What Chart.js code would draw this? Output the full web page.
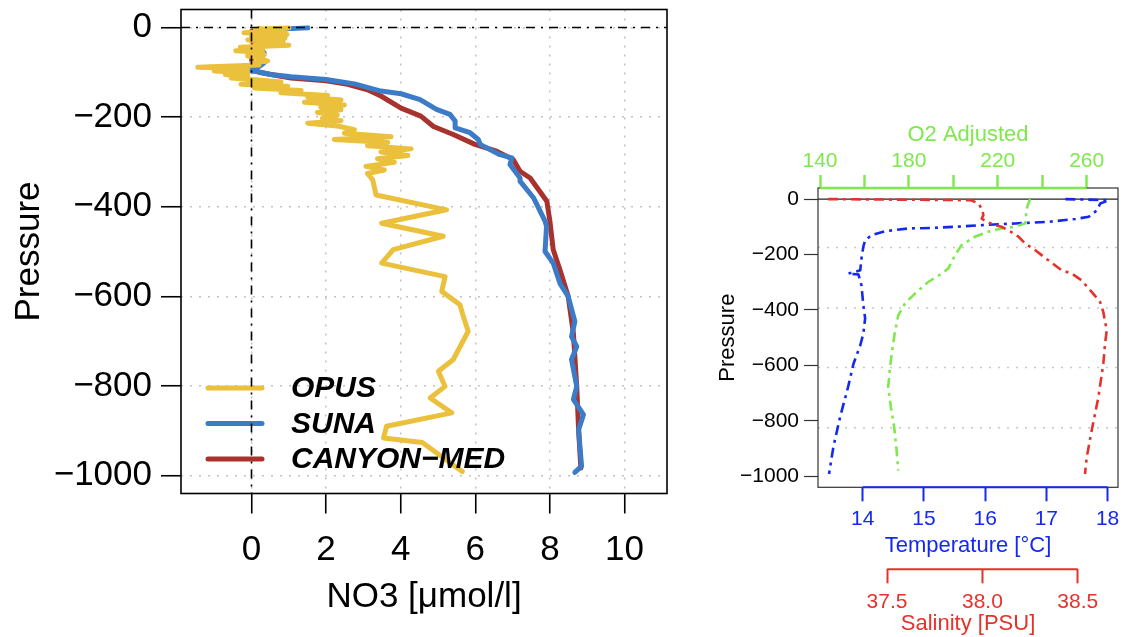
<!DOCTYPE html>
<html>
<head>
<meta charset="utf-8">
<script src="https://cdn.jsdelivr.net/npm/chart.js@4.4.1/dist/chart.umd.min.js"></script>
<style>
  html, body { margin: 0; padding: 0; background: #fff; }
  #wrap { position: relative; width: 1122px; height: 637px; overflow: hidden; }
  canvas { position: absolute; top: 0; }
  #no3Chart { left: 0; }
  #ctdChart { left: 700px; }
</style>
</head>
<body>
<div id="wrap">
  <canvas id="no3Chart" width="700" height="637"></canvas>
  <canvas id="ctdChart" width="422" height="637"></canvas>
</div>
<script>
// ---- data: left panel (nitrate profiles) ----
var pressureTicks = [0, -200, -400, -600, -800, -1000];
var no3Ticks = [0, 2, 4, 6, 8, 10];

var opusNO3 = [1.0, 0.1, 0.9, -0.2, 0.95, 0.0, 0.9, -0.1, 0.85, 0.1, 1.0, -0.3, 0.3, -0.42, 0.3, 0.34, -0.1, 0.2, 0.43, 0.0,
  0.2, -1.44, -0.1, -1.0, -0.1, -0.7, -0.1, -0.55, 0.1, 0.79, -0.28, 0.97, 0.08, 1.33, 0.79, 2.04, 1.51, 2.40, 1.42, 2.49,
  1.86, 2.40, 1.77, 2.3, 1.9, 2.4, 1.51, 2.3, 2.76, 2.49, 3.74, 2.22, 3.65, 3.11, 4.28, 3.47, 4.19, 3.38, 3.83, 3.07,
  3.56, 3.11, 3.25, 3.34, 5.23, 3.49, 5.14, 3.80, 3.49, 5.19, 5.10, 5.59, 5.68, 5.81, 5.41, 5.01, 5.19, 4.79, 5.37, 3.62,
  3.54, 4.58, 5.65];
var opusP = [-1, -4, -8, -12, -16, -20, -24, -28, -32, -36, -40, -44, -48, -52, -56, -61, -64, -68, -75, -80,
  -84, -89, -92, -97, -101, -105, -109, -113, -117, -122, -127, -131, -135, -141, -146, -152, -156, -162, -167, -173,
  -178, -184, -190, -196, -203, -208, -214, -220, -228, -236, -244, -250, -257, -264, -271, -278, -286, -293, -301, -310,
  -318, -326, -340, -374, -407, -437, -466, -496, -526, -556, -589, -619, -645, -678, -741, -767, -801, -827, -860, -890,
  -916, -926, -991];

var sunaNO3 = [1.51, 0.34, 0.28, 0.3, 0.39, 0.21, 0.34, 0.25, 0.34, 0.21, -0.33, -0.1, 0.17, 0.52, 1.06, 2.0, 2.76, 3.47,
  4.01, 4.52, 4.96, 5.32, 5.46, 5.46, 5.86, 6.08, 6.13, 6.66, 6.98, 6.93, 7.2, 7.2, 7.56, 7.87, 7.91, 7.87, 8.09, 8.27,
  8.49, 8.67, 8.58, 8.72, 8.58, 8.72, 8.63, 8.9, 8.77, 8.85, 8.67];
var sunaP = [-1, -5, -15, -23, -31, -46, -57, -68, -79, -87, -92, -96, -99, -105, -110, -116, -126, -142,
  -148, -161, -183, -194, -209, -224, -235, -250, -261, -284, -291, -306, -336, -343, -380, -432, -444, -500, -526, -571,
  -600, -656, -690, -712, -741, -801, -830, -864, -898, -979, -993];

var canyonNO3 = [0.21, 0.0, 0.03, 0.08, 0.0, 0.03, 0.2, 0.52, 1.06, 2.0, 2.58, 3.11, 3.47, 4.01, 4.54, 4.88, 5.41, 5.99,
  6.57, 7.02, 7.2, 7.47, 7.92, 8.0, 8.09, 8.27, 8.49, 8.63, 8.72, 8.77, 8.83];
var canyonP = [-3, -9, -31, -53, -68, -90, -100, -105, -113, -119, -127, -139, -153, -180, -198, -221, -239, -261,
  -276, -295, -321, -336, -388, -432, -496, -541, -600, -682, -801, -898, -983];

// ---- data: right panel (CTD + oxygen) ----
var tempTicks = [14, 15, 16, 17, 18];
var salTicks = [37.5, 38.0, 38.5];
var o2Ticks = [140, 160, 180, 200, 220, 240, 260];
var o2TickLabels = ['140', '', '180', '', '220', '', '260'];
var ctdGridP = [-175, -393, -608, -825];

var tempC = [17.31, 18.02, 17.88, 17.83, 17.69, 17.47, 17.04, 16.49, 15.95, 15.51, 15.13, 14.75, 14.36, 14.15, 14.04,
  14.01, 13.98, 13.96, 13.76, 13.93, 13.98, 14.01, 14.04, 14.01, 13.96, 13.85, 13.76, 13.63, 13.52, 13.45];
var tempP = [0, -4, -16, -40, -64, -72, -82, -88, -94, -100, -104, -106, -116, -130, -148,
  -172, -215, -257, -269, -272, -311, -383, -430, -486, -528, -594, -679, -787, -896, -992];

var salPSU = [37.19, 37.94, 37.98, 38.0, 38.005, 37.997, 38.02, 38.066, 38.10, 38.136, 38.19, 38.224, 38.276, 38.346,
  38.416, 38.469, 38.52, 38.573, 38.617, 38.634, 38.652, 38.643, 38.634, 38.608, 38.573, 38.547, 38.538];
var salP = [0, -4, -16, -40, -58, -70, -82, -94, -100, -112, -136, -160, -184, -221,
  -257, -269, -293, -335, -371, -408, -474, -522, -594, -715, -835, -932, -992];

var o2 = [234.5, 232.5, 233.0, 232.2, 227.7, 221.7, 215.7, 209.7, 203.7, 200.7, 197.7, 194.8, 188.7, 182.7, 178.2,
  175.2, 173.7, 172.5, 171.5, 170.7, 171.9, 173.4, 174.5, 175.2];
var o2P = [0, -46, -70, -88, -100, -106, -118, -136, -166, -203, -251, -269, -299, -341, -377,
  -420, -480, -546, -606, -679, -751, -823, -908, -980];

var FONT = "'Liberation Sans', Arial, Helvetica, sans-serif";
Chart.defaults.font.family = FONT;

function xy(xs, ys) {
  return xs.map(function (v, i) { return { x: v, y: ys[i] }; });
}
function fmtMinus(v) {
  return v < 0 ? '\u2212' + Math.abs(v) : String(v);
}
function fixTicks(arr) {
  return function (s) { s.ticks = arr.map(function (v) { return { value: v }; }); };
}
// fixed box sizes so the plot areas line up with the reference
function fitSize(prop, size) {
  return function (s) {
    s[prop] = size;
    s.paddingLeft = s.paddingRight = s.paddingTop = s.paddingBottom = 0;
  };
}

// ---- left chart ----
function profile(label, xs, ys, color) {
  return {
    label: label, data: xy(xs, ys), showLine: true, pointRadius: 0,
    borderColor: color, backgroundColor: color, borderWidth: 5,
    borderJoinStyle: 'round', borderCapStyle: 'round', fill: false
  };
}

var leftDecor = {
  id: 'leftDecor',
  afterDatasetsDraw: function (chart) {
    var ctx = chart.ctx, a = chart.chartArea;
    ctx.save();
    // legend, bottom left inside the box
    chart.data.datasets.forEach(function (ds, i) {
      var y = 388 + i * 35.5;
      ctx.strokeStyle = ds.borderColor;
      ctx.lineWidth = 5;
      ctx.lineCap = 'round';
      ctx.beginPath(); ctx.moveTo(208, y); ctx.lineTo(262, y); ctx.stroke();
      ctx.fillStyle = '#000';
      ctx.font = 'italic bold 30px ' + FONT;
      ctx.textBaseline = 'middle';
      ctx.fillText(ds.label, 291, y + 1);
    });
    // dash-dot zero lines
    var x0 = chart.scales.x.getPixelForValue(0);
    var y0 = chart.scales.y.getPixelForValue(0);
    ctx.strokeStyle = '#000';
    ctx.lineWidth = 1.6;
    ctx.lineCap = 'butt';
    ctx.setLineDash([9, 6, 2, 6]);
    ctx.beginPath();
    ctx.moveTo(x0, a.top); ctx.lineTo(x0, a.bottom);
    ctx.moveTo(a.left, y0); ctx.lineTo(a.right, y0);
    ctx.stroke();
    ctx.restore();
  },
  afterDraw: function (chart) {
    var ctx = chart.ctx, a = chart.chartArea;
    ctx.save();
    ctx.strokeStyle = '#000';
    ctx.lineWidth = 1.6;
    ctx.strokeRect(a.left, a.top, a.right - a.left, a.bottom - a.top);
    ctx.restore();
  }
};

new Chart(document.getElementById('no3Chart'), {
  type: 'scatter',
  data: {
    datasets: [
      profile('OPUS', opusNO3, opusP, '#ebc03c'),
      profile('SUNA', sunaNO3, sunaP, '#3b7bc8'),
      profile('CANYON\u2212MED', canyonNO3, canyonP, '#a8322e')
    ]
  },
  options: {
    responsive: false,
    animation: false,
    layout: { padding: { top: 9.5, right: 33, left: 0, bottom: 0 } },
    plugins: { legend: { display: false }, tooltip: { enabled: false } },
    scales: {
      x: {
        type: 'linear', position: 'bottom', min: -1.89, max: 11.14,
        afterBuildTicks: fixTicks(no3Ticks),
        afterFit: fitSize('height', 143.5),
        ticks: { font: { size: 35 }, color: '#000', padding: 15.7, maxRotation: 0, autoSkip: false, callback: fmtMinus },
        grid: { color: '#c2c2c2', lineWidth: 1.5, tickLength: 20, tickColor: '#000', tickWidth: 1.6, tickBorderDash: [] },
        border: { display: false, dash: [2, 7] },
        title: { display: true, text: 'NO3 [\u03bcmol/l]', color: '#000', font: { size: 35 }, padding: { top: 0, bottom: 18.7 } }
      },
      y: {
        type: 'linear', position: 'left', min: -1040, max: 40,
        afterBuildTicks: fixTicks(pressureTicks),
        afterFit: fitSize('width', 181),
        ticks: { font: { size: 35 }, color: '#000', padding: 9, autoSkip: false, callback: fmtMinus },
        grid: { color: '#c2c2c2', lineWidth: 1.5, tickLength: 20, tickColor: '#000', tickWidth: 1.6, tickBorderDash: [] },
        border: { display: false, dash: [2, 7] },
        title: { display: true, text: 'Pressure', color: '#000', font: { size: 35 }, padding: { top: 8.7, bottom: 0 } }
      }
    }
  },
  plugins: [leftDecor]
});

// ---- right chart ----
var BLUE = '#1428f0', RED = '#e6322a', GREEN = '#7ee84c';

function ctdLine(label, xs, ys, color, axis) {
  return {
    label: label, data: xy(xs, ys), xAxisID: axis, yAxisID: 'y', showLine: true, pointRadius: 0,
    borderColor: color, borderWidth: 2.6, borderDash: [10, 5, 3, 5], borderCapStyle: 'butt', fill: false
  };
}

var ctdDecor = {
  id: 'ctdDecor',
  beforeDatasetsDraw: function (chart) {
    var ctx = chart.ctx, a = chart.chartArea, ys = chart.scales.y;
    ctx.save();
    ctx.strokeStyle = '#c8c8c8';
    ctx.lineWidth = 1.5;
    ctx.setLineDash([2, 7]);
    ctdGridP.forEach(function (p) {
      var y = ys.getPixelForValue(p);
      ctx.beginPath(); ctx.moveTo(a.left, y); ctx.lineTo(a.right, y); ctx.stroke();
    });
    ctx.setLineDash([]);
    ctx.strokeStyle = '#222';
    ctx.lineWidth = 1.2;
    var y0 = ys.getPixelForValue(0);
    ctx.beginPath(); ctx.moveTo(a.left, y0); ctx.lineTo(a.right, y0); ctx.stroke();
    ctx.restore();
  },
  afterDraw: function (chart) {
    var ctx = chart.ctx, a = chart.chartArea, s = chart.scales;
    ctx.save();
    ctx.strokeStyle = '#333';
    ctx.lineWidth = 1.2;
    ctx.strokeRect(a.left, a.top, a.right - a.left, a.bottom - a.top);
    function axisLine(scale, v0, v1, y, color, w) {
      ctx.strokeStyle = color;
      ctx.lineWidth = w;
      ctx.beginPath();
      ctx.moveTo(scale.getPixelForValue(v0), y);
      ctx.lineTo(scale.getPixelForValue(v1), y);
      ctx.stroke();
    }
    axisLine(s.xo, o2Ticks[0], o2Ticks[o2Ticks.length - 1], a.top, GREEN, 2.6);
    axisLine(s.x, tempTicks[0], tempTicks[tempTicks.length - 1], a.bottom, BLUE, 2);
    axisLine(s.xs, salTicks[0], salTicks[salTicks.length - 1], s.xs.top, RED, 2);
    ctx.restore();
  }
};

new Chart(document.getElementById('ctdChart'), {
  type: 'scatter',
  data: {
    datasets: [
      ctdLine('Salinity', salPSU, salP, RED, 'xs'),
      ctdLine('O2 Adjusted', o2, o2P, GREEN, 'xo'),
      ctdLine('Temperature', tempC, tempP, BLUE, 'x')
    ]
  },
  options: {
    responsive: false,
    animation: false,
    layout: { padding: { top: 0, right: 4, left: 0, bottom: 0 } },
    plugins: { legend: { display: false }, tooltip: { enabled: false } },
    scales: {
      y: {
        type: 'linear', position: 'left', min: -1040, max: 40,
        afterBuildTicks: fixTicks(pressureTicks),
        afterFit: fitSize('width', 118),
        ticks: { font: { size: 21 }, color: '#000', padding: 5, autoSkip: false, callback: fmtMinus },
        grid: { drawOnChartArea: false, tickLength: 14, tickColor: '#333', tickWidth: 1.2 },
        border: { display: false },
        title: { display: true, text: 'Pressure', color: '#000', font: { size: 22 }, padding: { top: 14.8, bottom: 0 } }
      },
      x: {
        type: 'linear', position: 'bottom', weight: 1, min: 13.27, max: 18.17,
        afterBuildTicks: fixTicks(tempTicks),
        afterFit: fitSize('height', 82),
        ticks: { font: { size: 21 }, color: BLUE, padding: 5.4, maxRotation: 0, autoSkip: false },
        grid: { drawOnChartArea: false, tickLength: 14, tickColor: BLUE, tickWidth: 2 },
        border: { display: false },
        title: { display: true, text: 'Temperature [\u00b0C]', color: BLUE, font: { size: 22 }, padding: { top: 0, bottom: 10.1 } }
      },
      xs: {
        type: 'linear', position: 'bottom', weight: 2, min: 37.138, max: 38.711,
        afterBuildTicks: fixTicks(salTicks),
        afterFit: fitSize('height', 67.7),
        ticks: {
          font: { size: 21 }, color: RED, padding: 6.8, maxRotation: 0, autoSkip: false,
          callback: function (v) { return v.toFixed(1); }
        },
        grid: { drawOnChartArea: false, tickLength: 14, tickColor: RED, tickWidth: 2 },
        border: { display: false },
        title: { display: true, text: 'Salinity [PSU]', color: RED, font: { size: 22 }, padding: { top: 0, bottom: 0 } }
      },
      xo: {
        type: 'linear', position: 'top', min: 139.1, max: 274.1,
        afterBuildTicks: fixTicks(o2Ticks),
        afterFit: fitSize('height', 188),
        ticks: {
          font: { size: 21 }, color: GREEN, padding: 1.4, maxRotation: 0, autoSkip: false,
          callback: function (v, i) { return o2TickLabels[i]; }
        },
        grid: { drawOnChartArea: false, tickLength: 13, tickColor: GREEN, tickWidth: 2.4 },
        border: { display: false },
        title: { display: true, text: 'O2 Adjusted', color: GREEN, font: { size: 22 }, padding: { top: 121.8, bottom: 0 } }
      }
    }
  },
  plugins: [ctdDecor]
});
</script>
</body>
</html>
